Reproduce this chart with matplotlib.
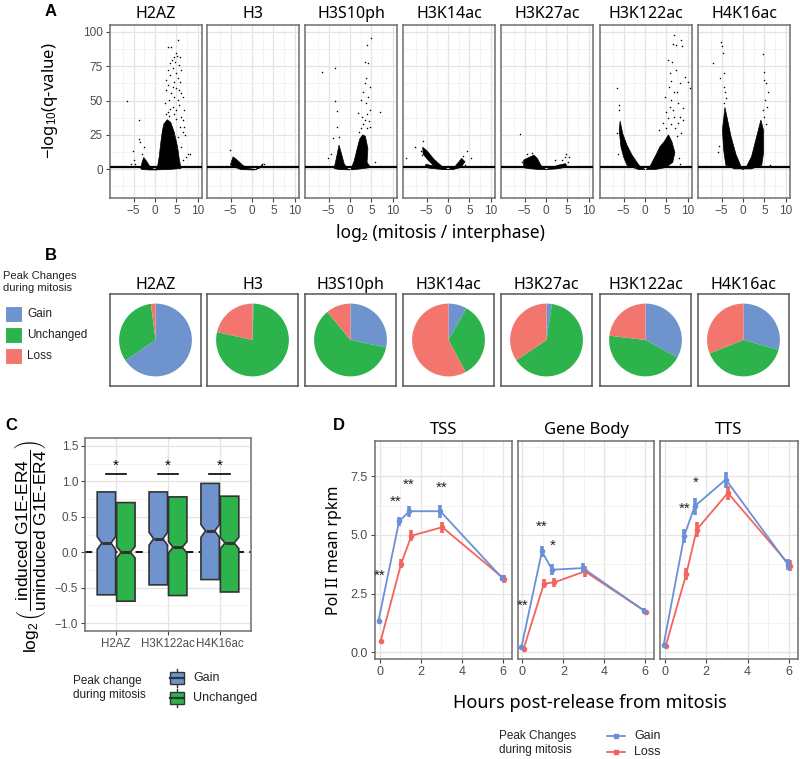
import matplotlib
matplotlib.use('Agg')
import matplotlib.pyplot as plt
from matplotlib.patches import Polygon, Rectangle

plt.rcParams['font.family'] = ['Liberation Sans', 'DejaVu Sans']
plt.rcParams['mathtext.fontset'] = 'custom'
plt.rcParams['mathtext.rm'] = 'Liberation Sans'
plt.rcParams['mathtext.it'] = 'Liberation Sans:italic'
TITLE_FONT = ['Noto Sans', 'DejaVu Sans']

# ---------------- data ----------------
marks = ['H2AZ', 'H3', 'H3S10ph', 'H3K14ac', 'H3K27ac', 'H3K122ac', 'H4K16ac']

# panel A: dense point clouds as outlines (log2 FC, -log10 q), plus sparse points
h2az_core = [
    [(0.0, -0.5), (0.6, 1.5), (1.0, 9), (1.4, 20), (1.75, 28), (2.1, 33), (2.9, 36),
     (3.7, 34), (4.5, 27), (5.3, 16), (5.7, 7), (6.1, 0.5), (3.0, -0.3)],
    [(-3.3, 0.5), (-3.0, 5), (-2.6, 8.5), (-2.0, 6), (-1.3, 2.5), (-0.5, 0.3),
     (0.5, -0.5), (-1.0, -0.6), (-3.0, -0.3)],
]
h2az_pts = [
    (5.48, 94.2), (3.73, 89.3), (3.17, 88.8), (4.92, 84.4), (5.16, 82.5), (4.37, 82.0),
    (5.95, 81.5), (3.97, 79.6), (4.68, 78.3), (3.49, 77.1), (5.71, 75.9), (4.29, 73.5),
    (6.11, 72.3), (2.94, 72.3), (4.92, 69.8), (3.57, 68.6), (5.32, 66.2), (2.54, 65.0),
    (4.52, 63.7), (5.95, 63.7), (3.17, 61.3), (4.13, 60.1), (4.92, 58.9), (5.71, 57.7),
    (2.70, 57.7), (3.73, 55.2), (6.11, 55.2), (4.52, 52.8), (5.32, 50.4), (3.33, 50.4),
    (6.51, 52.8), (2.38, 47.9), (5.71, 46.7), (6.90, 43.1), (4.13, 45.5), (4.92, 43.1),
    (6.11, 38.2), (6.67, 35.8), (6.90, 30.9), (6.51, 27.3), (7.14, 24.8), (7.70, 11.4),
    (8.10, 11.4), (7.30, 9.0), (6.51, 6.6), (6.11, 16.3), (5.32, 23.6), (5.87, 30.9),
    (3.0, 42.0), (3.6, 44.0), (4.4, 40.0), (2.6, 40.0), (5.0, 36.5), (3.3, 38.5),
    (-6.59, 49.9), (-3.65, 35.8), (-3.81, 21.9), (-3.41, 20.0), (-2.62, 16.3),
    (-5.24, 13.1), (-5.0, 6.6), (-4.76, 4.1), (-3.02, 11.4), (-5.56, 4.1),
]
h3_core = [
    [(-5.0, 3.5), (-4.4, 9), (-3.4, 6.5), (-2.2, 3), (-1.0, 0.6), (0.9, -0.2), (2.0, 2.0),
     (2.6, 4.0), (2.4, 1.5), (0.5, -0.6), (-2.6, -0.3), (-3.8, 1.2), (-4.7, 1.5)],
]
h3_pts = [(-5.2, 13.9), (-5.95, 2.2), (3.3, 2.2), (-4.7, 6.5), (2.9, 3.5)]
h3s10ph_core = [
    [(-3.7, 0.5), (-3.1, 9), (-2.55, 17.5), (-2.0, 11.5), (-1.35, 4), (-0.5, 0),
     (0.0, -0.5), (-2.5, -0.3)],
    [(0.2, -0.3), (1.0, 6), (1.7, 15), (2.3, 22), (3.0, 25), (3.6, 24), (4.2, 15),
     (4.0, 5), (4.8, 1.2), (2.5, 0.2), (0.5, -0.5)],
]
h3s10ph_pts = [
    (5.0, 95.4), (3.97, 90.5), (3.41, 78.3), (4.2, 77.6), (3.65, 66.2), (3.41, 62.5),
    (4.6, 60.1), (3.0, 56.4), (4.2, 52.8), (2.62, 50.4), (3.8, 47.9), (1.98, 40.6),
    (4.6, 43.1), (6.98, 41.8), (5.95, 5.4), (-6.43, 70.6), (-3.57, 74.0), (-3.49, 49.9),
    (-3.1, 42.6), (-2.94, 30.9), (-3.89, 22.4), (-5.16, 7.8), (-4.52, 11.4), (-2.54, 23.6),
    (2.5, 30), (3.0, 33), (3.5, 36), (4.0, 30), (2.8, 38), (3.9, 40), (4.4, 35), (2.2, 27),
    (4.7, 31),
]
h3k14ac_core = [
    [(-5.9, 16), (-4.8, 13), (-3.2, 7), (-1.2, 1.5), (0.0, -0.3), (-1.5, 0.2), (-3.5, 3),
     (-5.0, 8), (-5.8, 11)],
    [(-5.2, 3.5), (-3.5, 2.5), (-1.5, 1.0), (0.0, -0.3), (-1.5, -0.2), (-4.5, 0.8),
     (-5.2, 1.5)],
    [(0.0, -0.3), (1.6, 1.7), (3.2, 7.8), (4.0, 5.4), (3.0, 1.2), (1.0, -0.4)],
]
h3k14ac_pts = [(-5.8, 20.4), (-7.7, 16.3), (-9.7, 7.8), (4.4, 13.4), (5.3, 7.8),
               (4.0, 2.9), (-6.3, 13), (-6.0, 10), (3.6, 9.5)]
h3k27ac_core = [
    [(-5.2, 1.0), (-5.2, 6.6), (-4.0, 8.5), (-2.8, 10.2), (-2.0, 7.8), (-1.2, 2.9),
     (0.0, -0.3), (-1.5, -0.3), (-3.6, 0.3)],
    [(0.0, -0.3), (1.6, 1.5), (3.0, 3.0), (4.6, 4.0), (5.0, 1.5), (2.5, 0.2)],
]
h3k27ac_pts = [(-6.1, 25.3), (4.8, 10.7), (5.3, 9.0), (4.4, 8.5), (2.1, 6.6), (-5.6, 5.4),
               (3.8, 6.5), (-4.5, 11), (-3.3, 11.5), (5.2, 5.5)]
h3k122ac_core = [
    [(-5.8, 35), (-5.2, 26), (-4.2, 17.5), (-3.0, 10.2), (-1.4, 2.9), (0.0, -0.3),
     (-1.5, -0.3), (-4.2, 2.9), (-5.0, 9), (-5.6, 16.3), (-6.0, 28)],
    [(0.3, -0.3), (1.35, 2.9), (2.55, 10.2), (3.5, 16.3), (4.5, 20), (5.5, 25),
     (6.3, 20), (7.0, 12), (6.5, 5), (4.9, 1.2), (2.5, -0.2)],
]
h3k122ac_pts = [
    (6.9, 97.8), (6.51, 91.2), (7.3, 90.5), (8.33, 94.2), (8.73, 89.8), (5.32, 79.6),
    (6.35, 78.3), (7.3, 72.3), (5.87, 69.8), (9.29, 67.4), (10.1, 63.7), (10.5, 58.9),
    (8.1, 62.5), (5.56, 60.1), (6.9, 56.4), (4.76, 52.8), (6.11, 50.4), (7.7, 47.9),
    (8.9, 44.3), (6.5, 43.1), (4.9, 41.8), (8.1, 38.2), (8.5, 26), (5.3, 37), (4.13, 33.3),
    (8.9, 35.8), (7.7, 33.3), (3.33, 28.5), (8.1, 4.1), (6.0, 33), (7.0, 30), (5.0, 30),
    (7.5, 24), (6.8, 38), (5.8, 45), (7.6, 56), (6.2, 64), (7.9, 8.0), (-6.59, 58.9),
    (-6.03, 46.7), (-5.95, 43.1), (-6.59, 26), (-6.35, 11.4), (-5.24, 12.7),
]
h4k16ac_core = [
    [(-4.2, 45), (-3.6, 36), (-2.8, 24), (-1.6, 10.5), (-0.4, 1.7), (0.0, -0.3), (0.8, 1.7),
     (2.0, 9), (2.8, 18.7), (3.6, 28.5), (4.2, 35.8), (4.8, 28.5), (4.8, 11.7), (4.4, 2.9),
     (2.0, 0.2), (-2.0, 0.2), (-4.0, 2.9), (-4.5, 13.9), (-4.8, 28.5)],
]
h4k16ac_pts = [
    (-5.16, 92.9), (-5.0, 89.8), (-4.76, 84.9), (-6.98, 77.6), (-4.52, 70.3), (-5.32, 66.2),
    (-4.37, 60.1), (-4.2, 56.4), (-3.97, 51.6), (4.76, 83.7), (5.0, 71.0), (4.84, 65.0),
    (5.32, 62.5), (5.8, 56.4), (5.16, 50.4), (5.56, 45.5), (4.76, 43.1), (-5.56, 16.8),
    (6.35, 2.7), (-5.8, 12.7), (-4.5, 48), (5.0, 38), (5.3, 33),
]
volcano_cores = [h2az_core, h3_core, h3s10ph_core, h3k14ac_core, h3k27ac_core,
                 h3k122ac_core, h4k16ac_core]
volcano_pts = [h2az_pts, h3_pts, h3s10ph_pts, h3k14ac_pts, h3k27ac_pts,
               h3k122ac_pts, h4k16ac_pts]

# panel B: fraction of peaks
pie_gain = [0.655, 0.005, 0.283, 0.083, 0.024, 0.330, 0.294]
pie_unchanged = [0.325, 0.780, 0.607, 0.339, 0.632, 0.439, 0.396]
pie_loss = [0.020, 0.215, 0.110, 0.578, 0.344, 0.231, 0.310]

# panel C: notched box stats
c_marks = ['H2AZ', 'H3K122ac', 'H4K16ac']
gain_q1 = [-0.60, -0.46, -0.385]
gain_med = [0.13, 0.19, 0.30]
gain_q3 = [0.85, 0.85, 0.97]
gain_notch = [0.09, 0.09, 0.09]
unch_q1 = [-0.69, -0.61, -0.56]
unch_med = [0.0, 0.07, 0.13]
unch_q3 = [0.70, 0.78, 0.79]
unch_notch = [0.08, 0.08, 0.08]

# panel D: Pol II mean rpkm
hours = [0, 1, 1.5, 3, 6]
regions = ['TSS', 'Gene Body', 'TTS']
tss_gain = [1.35, 5.58, 6.01, 6.01, 3.17]
tss_gain_err = [0.08, 0.18, 0.24, 0.28, 0.14]
tss_loss = [0.47, 3.78, 4.97, 5.33, 3.13]
tss_loss_err = [0.06, 0.18, 0.23, 0.23, 0.16]
gb_gain = [0.23, 4.30, 3.52, 3.59, 1.78]
gb_gain_err = [0.06, 0.25, 0.24, 0.23, 0.10]
gb_loss = [0.14, 2.93, 2.98, 3.45, 1.72]
gb_loss_err = [0.06, 0.20, 0.19, 0.23, 0.10]
tts_gain = [0.30, 4.97, 6.22, 7.36, 3.74]
tts_gain_err = [0.06, 0.30, 0.36, 0.34, 0.23]
tts_loss = [0.26, 3.35, 5.23, 6.79, 3.69]
tts_loss_err = [0.05, 0.25, 0.32, 0.31, 0.23]
tss_stars = [(0.0, 3.28, '**'), (0.8, 6.43, '**'), (1.43, 7.12, '**'), (3.0, 7.0, '**')]
gb_stars = [(0.02, 2.0, '**'), (0.93, 5.34, '**'), (1.47, 4.56, '*')]
tts_stars = [(0.95, 6.1, '**'), (1.5, 7.24, '*')]

BLUE = '#6f94cd'
GREEN = '#2db34b'
RED = '#f3766e'
D_BLUE = '#6b8fd8'
D_RED = '#f2645d'

W, H = 800, 759
fig = plt.figure(figsize=(8, 7.59), dpi=100)


def box(l, t, r, b):
    return [l / W, 1 - b / H, (r - l) / W, (b - t) / H]


def gg(ax, xmaj, xmin, ymaj, ymin):
    ax.set_xticks(xmaj)
    ax.set_xticks(xmin, minor=True)
    ax.set_yticks(ymaj)
    ax.set_yticks(ymin, minor=True)
    ax.grid(True, which='major', color='#e4e4e4', lw=0.9)
    ax.grid(True, which='minor', color='#f1f1f1', lw=0.6)
    ax.set_axisbelow(True)
    for s in ax.spines.values():
        s.set_color('#6e6e6e')
        s.set_linewidth(1.1)
    ax.tick_params(which='minor', length=0)
    ax.tick_params(which='major', length=3, color='#444444', labelsize=8.5,
                   labelcolor='#4d4d4d', pad=2)


# ---------------- panel A ----------------
a_left = [110, 207, 305, 403, 501, 600, 698]
for i, name in enumerate(marks):
    ax = fig.add_axes(box(a_left[i], 25, a_left[i] + 92, 198))
    for poly in volcano_cores[i]:
        ax.add_patch(Polygon(poly, closed=True, fc='black', ec='black', lw=0.5, zorder=2))
    px = [p[0] for p in volcano_pts[i]]
    py = [p[1] for p in volcano_pts[i]]
    ax.scatter(px, py, s=1.2, c='black', lw=0, zorder=3)
    ax.axhline(1.3, color='black', lw=1.6, zorder=4)
    ax.set_xlim(-10.5, 11)
    ax.set_ylim(-21, 105)
    gg(ax, [-5, 0, 5, 10], [-7.5, -2.5, 2.5, 7.5], [0, 25, 50, 75, 100],
       [-12.5, 12.5, 37.5, 62.5, 87.5])
    ax.set_xticklabels(['\u22125', '0', '5', '10'])
    if i > 0:
        ax.tick_params(left=False, labelleft=False)
    ax.set_title(name, fontsize=11.5, pad=5, family=TITLE_FONT)

fig.text(50 / W, 1 - 101 / H, '\u2212log$_{10}$(q-value)', rotation=90, ha='center',
         va='center', fontsize=12, family=TITLE_FONT)
fig.text(440 / W, 1 - 233 / H, 'log\u2082 (mitosis / interphase)', ha='center',
         va='center', fontsize=12.5, family=TITLE_FONT)

# ---------------- panel B ----------------
for i, name in enumerate(marks):
    ax = fig.add_axes(box(a_left[i], 294, a_left[i] + 91, 386))
    ax.pie([pie_gain[i], pie_unchanged[i], pie_loss[i]], colors=[BLUE, GREEN, RED],
           startangle=90, counterclock=False, radius=1, wedgeprops=dict(linewidth=0))
    ax.set_frame_on(True)
    ax.set_xlim(-1.25, 1.25)
    ax.set_ylim(-1.25, 1.25)
    ax.set_xticks([])
    ax.set_yticks([])
    for s in ax.spines.values():
        s.set_color('#555555')
        s.set_linewidth(1.1)
    ax.set_title(name, fontsize=11.5, pad=4, family=TITLE_FONT)

leg = fig.add_axes(box(0, 265, 110, 370))
leg.set_xlim(0, 110)
leg.set_ylim(370, 265)
leg.axis('off')
leg.text(3, 282, 'Peak Changes\nduring mitosis', fontsize=8, va='center', color='#222222')
for k, (lab, col) in enumerate(zip(['Gain', 'Unchanged', 'Loss'], [BLUE, GREEN, RED])):
    yc = 314 + 21 * k
    leg.add_patch(Rectangle((5, yc - 8), 17, 16, fc=col, ec='white', lw=0.8))
    leg.text(27, yc, lab, fontsize=8.5, va='center', color='#222222')

# ---------------- panel C ----------------
axc = fig.add_axes(box(85, 438, 251, 631))
stats = []
pos = []
cols = []
for j in range(3):
    stats.append(dict(med=gain_med[j], q1=gain_q1[j], q3=gain_q3[j], whislo=gain_q1[j],
                      whishi=gain_q3[j], cilo=gain_med[j] - gain_notch[j],
                      cihi=gain_med[j] + gain_notch[j], fliers=[]))
    pos.append(j + 1 - 0.1875)
    cols.append(BLUE)
    stats.append(dict(med=unch_med[j], q1=unch_q1[j], q3=unch_q3[j], whislo=unch_q1[j],
                      whishi=unch_q3[j], cilo=unch_med[j] - unch_notch[j],
                      cihi=unch_med[j] + unch_notch[j], fliers=[]))
    pos.append(j + 1 + 0.1875)
    cols.append(GREEN)
axc.axhline(0, color='black', lw=1.3, ls=(0, (4, 3)), zorder=1)
bp = axc.bxp(stats, positions=pos, widths=0.355, patch_artist=True, shownotches=True,
             showcaps=False, showfliers=False, zorder=2,
             boxprops=dict(edgecolor='#333333', linewidth=1.2),
             medianprops=dict(color='#333333', linewidth=2.2),
             whiskerprops=dict(color='#333333', linewidth=1.0))
for patch, col in zip(bp['boxes'], cols):
    patch.set_facecolor(col)
for j in range(3):
    axc.plot([j + 1 - 0.2, j + 1 + 0.2], [1.1, 1.1], color='black', lw=1.2)
    axc.text(j + 1, 1.12, '*', ha='center', va='bottom', fontsize=11)
axc.set_xlim(0.4, 3.6)
axc.set_ylim(-1.11, 1.61)
gg(axc, [1, 2, 3], [], [-1.0, -0.5, 0.0, 0.5, 1.0, 1.5], [-0.75, -0.25, 0.25, 0.75, 1.25])
axc.set_xticklabels(c_marks)
axc.tick_params(axis='x', labelsize=8.3)
axc.set_yticklabels(['\u22121.0', '\u22120.5', '0.0', '0.5', '1.0', '1.5'])
fig.text(30 / W, 1 - 547 / H,
         r'$\log_2\left(\dfrac{\text{induced G1E-ER4}}{\text{uninduced G1E-ER4}}\right)$',
         rotation=90, ha='center', va='center', fontsize=12.5)

legc = fig.add_axes(box(60, 660, 330, 720))
legc.set_xlim(60, 330)
legc.set_ylim(720, 660)
legc.axis('off')
legc.text(73, 688, 'Peak change\nduring mitosis', fontsize=8.5, va='center', color='#222222')
for k, (lab, col) in enumerate(zip(['Gain', 'Unchanged'], [BLUE, GREEN])):
    yc = 678 + 20 * k
    legc.plot([177, 177], [yc - 9, yc + 9], color='#333333', lw=1.0)
    legc.add_patch(Rectangle((170, yc - 6), 14, 12, fc=col, ec='#333333', lw=1.0, zorder=3))
    legc.plot([170, 184], [yc, yc], color='#333333', lw=1.6, zorder=4)
    legc.text(193, yc, lab, fontsize=9, va='center', color='#222222')

# ---------------- panel D ----------------
d_left = [375, 518, 660]
d_right = [512, 654, 798]
d_gain = [tss_gain, gb_gain, tts_gain]
d_gain_err = [tss_gain_err, gb_gain_err, tts_gain_err]
d_loss = [tss_loss, gb_loss, tts_loss]
d_loss_err = [tss_loss_err, gb_loss_err, tts_loss_err]
d_stars = [tss_stars, gb_stars, tts_stars]
for k, region in enumerate(regions):
    ax = fig.add_axes(box(d_left[k], 441, d_right[k], 659))
    xg = [h - 0.05 for h in hours]
    xl = [h + 0.05 for h in hours]
    ax.plot(xl, d_loss[k], color=D_RED, lw=1.3, zorder=3)
    ax.errorbar(xl, d_loss[k], yerr=d_loss_err[k], fmt='o', ms=3, color=D_RED,
                elinewidth=2.6, capsize=0, zorder=3)
    ax.plot(xg, d_gain[k], color=D_BLUE, lw=1.3, zorder=4)
    ax.errorbar(xg, d_gain[k], yerr=d_gain_err[k], fmt='o', ms=3, color=D_BLUE,
                elinewidth=2.6, capsize=0, zorder=4)
    for sx, sy, s in d_stars[k]:
        ax.text(sx, sy, s, ha='center', va='center', fontsize=11, color='#222222')
    ax.set_xlim(-0.22, 6.43)
    ax.set_ylim(-0.28, 9.0)
    gg(ax, [0, 2, 4, 6], [1, 3, 5], [0, 2.5, 5, 7.5], [1.25, 3.75, 6.25, 8.75])
    ax.set_yticklabels(['0.0', '2.5', '5.0', '7.5'])
    ax.tick_params(labelsize=9)
    if k > 0:
        ax.tick_params(left=False, labelleft=False)
    ax.set_title(region, fontsize=12, pad=5, family=TITLE_FONT)

fig.text(334 / W, 1 - 550 / H, 'Pol II mean rpkm', rotation=90, ha='center', va='center',
         fontsize=11.5, family=TITLE_FONT)
fig.text(590 / W, 1 - 703 / H, 'Hours post-release from mitosis', ha='center', va='center',
         fontsize=13, family=TITLE_FONT)

legd = fig.add_axes(box(490, 722, 700, 759))
legd.set_xlim(490, 700)
legd.set_ylim(759, 722)
legd.axis('off')
legd.text(499, 743, 'Peak Changes\nduring mitosis', fontsize=8.5, va='center', color='#222222')
for k, (lab, col) in enumerate(zip(['Gain', 'Loss'], [D_BLUE, D_RED])):
    yc = 736 + 16 * k
    legd.plot([607, 625], [yc, yc], color=col, lw=1.3)
    legd.plot([616], [yc], 's', ms=3, color=col)
    legd.text(634, yc, lab, fontsize=9, va='center', color='#222222')

# panel letters
for lab, x, y in [('A', 45, 12), ('B', 45, 255), ('C', 5, 425), ('D', 333, 425)]:
    fig.text(x / W, 1 - y / H, lab, fontsize=12, fontweight='bold', ha='left', va='center')

fig.savefig('out.png', dpi=100)
